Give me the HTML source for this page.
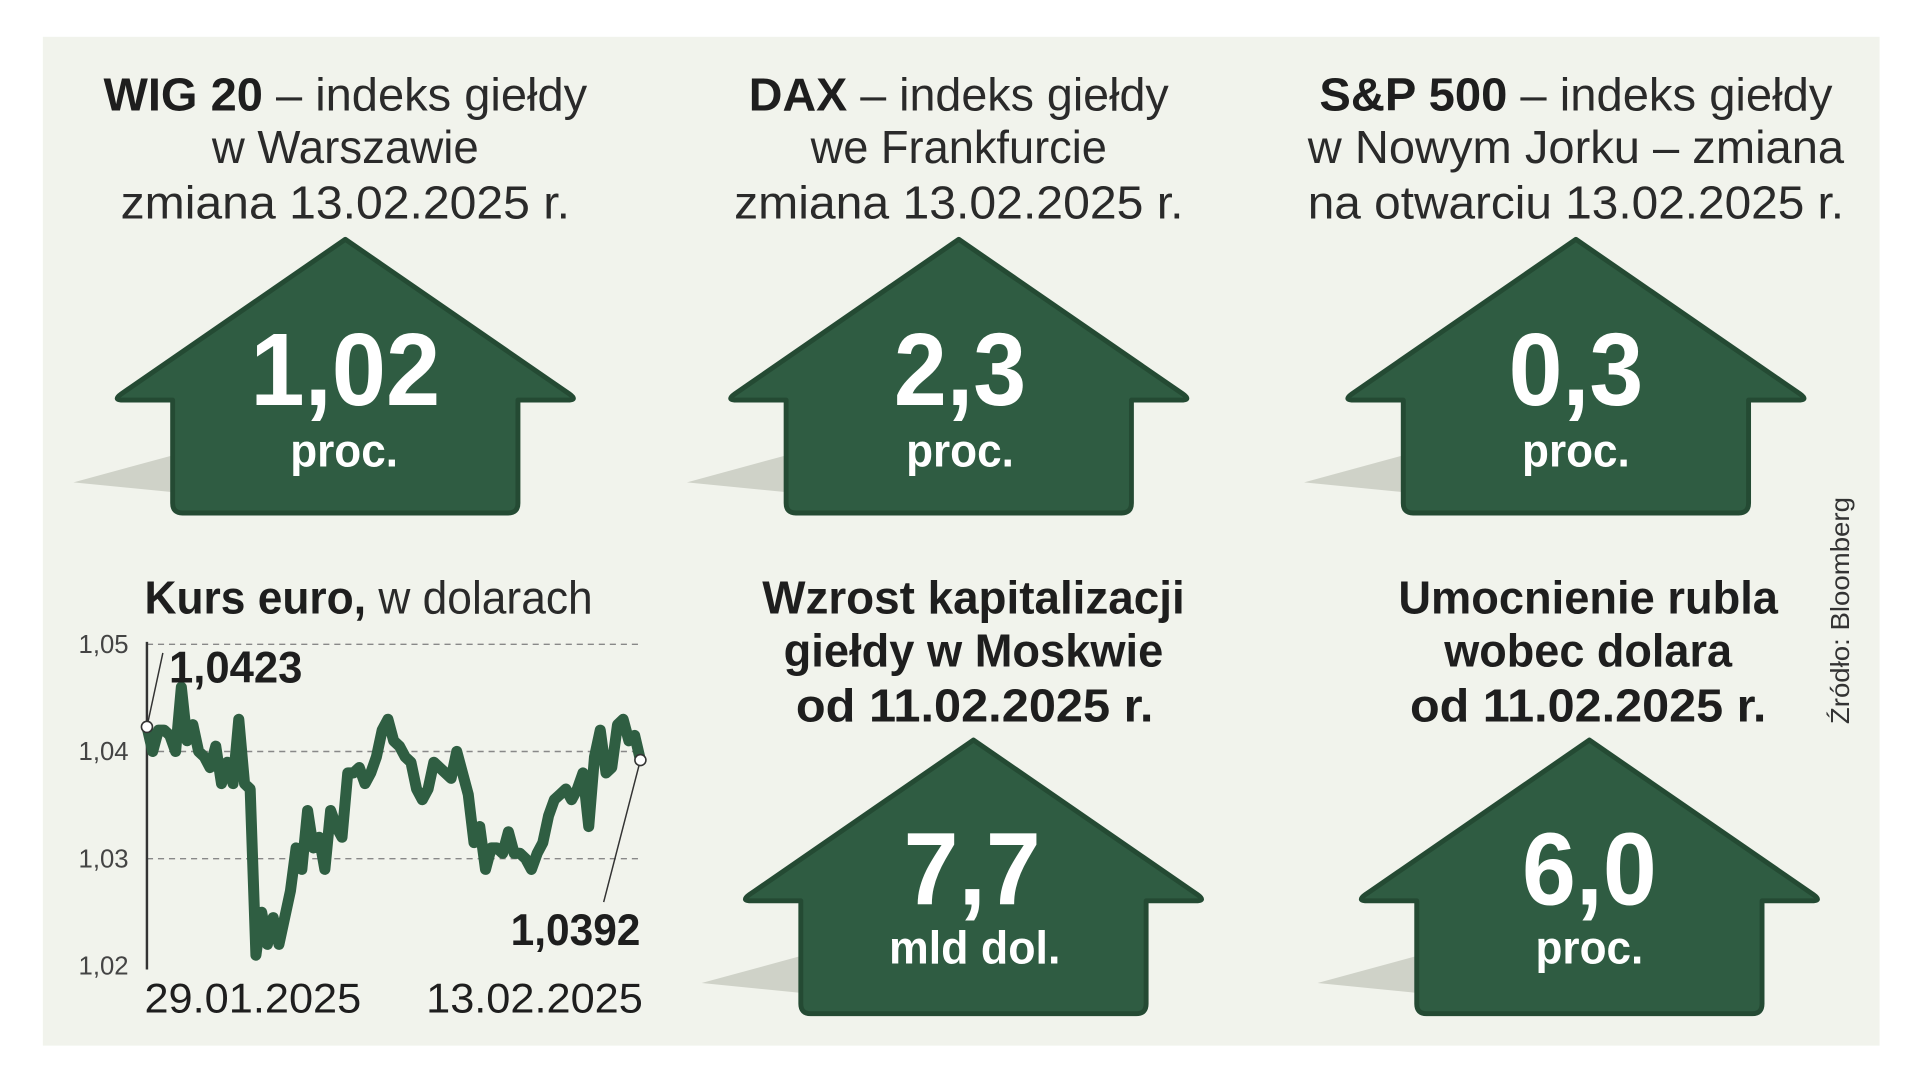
<!DOCTYPE html>
<html><head><meta charset="utf-8"><style>
html,body{margin:0;padding:0;background:#fff;}
svg{display:block;font-family:"Liberation Sans Narrow","Liberation Sans",sans-serif;}
.t{font-size:38px;fill:#2a2a2a;text-anchor:middle;}
.b{font-weight:bold;fill:#1e1e1e;}
.num{font-size:84px;font-weight:bold;fill:#fff;text-anchor:middle;}
.unit{font-size:38px;font-weight:bold;fill:#fff;text-anchor:middle;}
.tick{font-size:21px;fill:#444;}
</style></head><body>
<svg id="chart" width="1920" height="1080" viewBox="0 0 1568 880" preserveAspectRatio="none" xmlns="http://www.w3.org/2000/svg">
<rect x="35" y="30" width="1500" height="822" fill="#f1f3ec"/>
<defs>
<g id="arrow">
<polygon points="-222,198 -141,176 -141,206" fill="#cfd2c8"/>
<path d="M0,0 L183,126 Q190,131 182,131 L141,131 L141,215 Q141,223 133,223 L-133,223 Q-141,223 -141,215 L-141,131 L-182,131 Q-190,131 -183,126 Z" fill="#2f5c42" stroke="#244a33" stroke-width="4" stroke-linejoin="round"/>
</g>
</defs>

<g>
<text class="t" x="282" y="90" textLength="395" lengthAdjust="spacingAndGlyphs"><tspan class="b">WIG 20</tspan> – indeks giełdy</text>
<text class="t" x="282" y="133" textLength="218" lengthAdjust="spacingAndGlyphs">w Warszawie</text>
<text class="t" x="282" y="178" textLength="367" lengthAdjust="spacingAndGlyphs">zmiana 13.02.2025 r.</text>
<use href="#arrow" x="282" y="195"/>
<text class="num" x="282" y="330" textLength="155" lengthAdjust="spacingAndGlyphs">1,02</text>
<text class="unit" x="281" y="380" textLength="88" lengthAdjust="spacingAndGlyphs">proc.</text>
</g>

<g>
<text class="t" x="783" y="90" textLength="343" lengthAdjust="spacingAndGlyphs"><tspan class="b">DAX</tspan> – indeks giełdy</text>
<text class="t" x="783" y="133" textLength="242" lengthAdjust="spacingAndGlyphs">we Frankfurcie</text>
<text class="t" x="783" y="178" textLength="367" lengthAdjust="spacingAndGlyphs">zmiana 13.02.2025 r.</text>
<use href="#arrow" x="783" y="195"/>
<text class="num" x="784" y="330" textLength="108" lengthAdjust="spacingAndGlyphs">2,3</text>
<text class="unit" x="784" y="380" textLength="88" lengthAdjust="spacingAndGlyphs">proc.</text>
</g>

<g>
<text class="t" x="1287" y="90" textLength="419" lengthAdjust="spacingAndGlyphs"><tspan class="b">S&amp;P 500</tspan> – indeks giełdy</text>
<text class="t" x="1287" y="133" textLength="438" lengthAdjust="spacingAndGlyphs">w Nowym Jorku – zmiana</text>
<text class="t" x="1287" y="178" textLength="438" lengthAdjust="spacingAndGlyphs">na otwarciu 13.02.2025 r.</text>
<use href="#arrow" x="1287" y="195"/>
<text class="num" x="1287" y="330" textLength="110" lengthAdjust="spacingAndGlyphs">0,3</text>
<text class="unit" x="1287" y="380" textLength="88" lengthAdjust="spacingAndGlyphs">proc.</text>
</g>

<g>
<text class="t b" x="795" y="500" textLength="345" lengthAdjust="spacingAndGlyphs">Wzrost kapitalizacji</text>
<text class="t b" x="795" y="543" textLength="310" lengthAdjust="spacingAndGlyphs">giełdy w Moskwie</text>
<text class="t b" x="796" y="588" textLength="292" lengthAdjust="spacingAndGlyphs">od 11.02.2025 r.</text>
<use href="#arrow" x="795" y="603"/>
<text class="num" x="794" y="737" textLength="112" lengthAdjust="spacingAndGlyphs">7,7</text>
<text class="unit" x="796" y="785" textLength="140" lengthAdjust="spacingAndGlyphs">mld dol.</text>
</g>

<g>
<text class="t b" x="1297" y="500" textLength="310" lengthAdjust="spacingAndGlyphs">Umocnienie rubla</text>
<text class="t b" x="1297" y="543" textLength="235" lengthAdjust="spacingAndGlyphs">wobec dolara</text>
<text class="t b" x="1297" y="588" textLength="291" lengthAdjust="spacingAndGlyphs">od 11.02.2025 r.</text>
<use href="#arrow" x="1298" y="603"/>
<text class="num" x="1298" y="737" textLength="110" lengthAdjust="spacingAndGlyphs">6,0</text>
<text class="unit" x="1298" y="785" textLength="88" lengthAdjust="spacingAndGlyphs">proc.</text>
</g>

<text transform="translate(1510,590) rotate(-90)" font-size="21" fill="#333" textLength="185" lengthAdjust="spacingAndGlyphs">Źródło: Bloomberg</text>

<g id="eur">
<text x="118" y="500" font-size="38" fill="#2a2a2a" textLength="366" lengthAdjust="spacingAndGlyphs"><tspan class="b">Kurs euro,</tspan> w dolarach</text>
</g>
</svg>
<script>
const yTicks=[1.05,1.04,1.03,1.02];
const yTickLabels=["1,05","1,04","1,03","1,02"];
const dateLabels=["29.01.2025","13.02.2025"];
const rates=[1.0423,1.040,1.042,1.042,1.0415,1.040,1.046,1.041,1.0425,1.040,1.0395,1.0385,1.0405,1.037,1.039,1.037,1.043,1.037,1.0365,1.021,1.025,1.022,1.0245,1.022,1.0245,1.027,1.031,1.029,1.0345,1.031,1.032,1.029,1.0345,1.033,1.032,1.038,1.038,1.0385,1.037,1.038,1.0395,1.042,1.043,1.041,1.0405,1.0395,1.039,1.0365,1.0355,1.0365,1.039,1.0385,1.038,1.0375,1.040,1.038,1.036,1.0315,1.033,1.029,1.031,1.031,1.0305,1.0325,1.0305,1.0305,1.030,1.029,1.0305,1.0315,1.034,1.0355,1.036,1.0365,1.0355,1.0365,1.038,1.033,1.0395,1.042,1.038,1.0385,1.0425,1.043,1.041,1.0415,1.0392];
const startLabel=["1,0423"];
const endLabel=["1,0392"];
const NS="http://www.w3.org/2000/svg";
const g=document.getElementById('eur');
const X0=120,X1=523,Y0=787,Y1=525,VMIN=1.02,VMAX=1.05;
const sx=i=>X0+(X1-X0)*i/(rates.length-1);
const sy=v=>Y0-(Y0-Y1)*(v-VMIN)/(VMAX-VMIN);
function mk(tag,attrs,txt){const e=document.createElementNS(NS,tag);for(const k in attrs)e.setAttribute(k,attrs[k]);if(txt!==undefined)e.textContent=txt;g.appendChild(e);return e;}
yTicks.forEach((v,i)=>{
  if(v>VMIN){const l=mk('line',{x1:X0,x2:X1,y1:sy(v),y2:sy(v),stroke:'#888','stroke-width':1.2,'stroke-dasharray':'5,4'});
  
  }
  const t=mk('text',{x:105,y:sy(v)+7,'text-anchor':'end',class:'tick'},yTickLabels[i]);
  
  
});
const ax=mk('line',{x1:X0,x2:X0,y1:Y1-2,y2:Y0+3,stroke:'#333','stroke-width':2});


const p=mk('path',{d:rates.map((v,i)=>(i?'L':'M')+sx(i).toFixed(1)+','+sy(v).toFixed(1)).join(''),fill:'none',stroke:'#2f5e42','stroke-width':9,'stroke-linejoin':'round','stroke-linecap':'round'});


const last=rates.length-1;
const l1=mk('line',{x1:sx(0),y1:sy(rates[0]),x2:133,y2:532,stroke:'#333','stroke-width':1.2});


const l2=mk('line',{x1:sx(last),y1:sy(rates[last]),x2:493,y2:735,stroke:'#333','stroke-width':1.2});


[[0,'start-point'],[last,'end-point']].forEach(([i,n])=>{
  const c=mk('circle',{cx:sx(i),cy:sy(rates[i]),r:4.5,fill:'#fff',stroke:'#333','stroke-width':1.3});
  
  
});
const s1=mk('text',{x:138,y:556,'font-size':36,'font-weight':'bold',fill:'#1e1e1e',textLength:109,lengthAdjust:'spacingAndGlyphs'},startLabel[0]);


const s2=mk('text',{x:417,y:770,'font-size':36,'font-weight':'bold',fill:'#1e1e1e',textLength:106,lengthAdjust:'spacingAndGlyphs'},endLabel[0]);


const d1=mk('text',{x:118,y:825,'font-size':34,fill:'#1e1e1e',textLength:177,lengthAdjust:'spacingAndGlyphs'},dateLabels[0]);


const d2=mk('text',{x:348,y:825,'font-size':34,fill:'#1e1e1e',textLength:177,lengthAdjust:'spacingAndGlyphs'},dateLabels[1]);


</script>
</body></html>
